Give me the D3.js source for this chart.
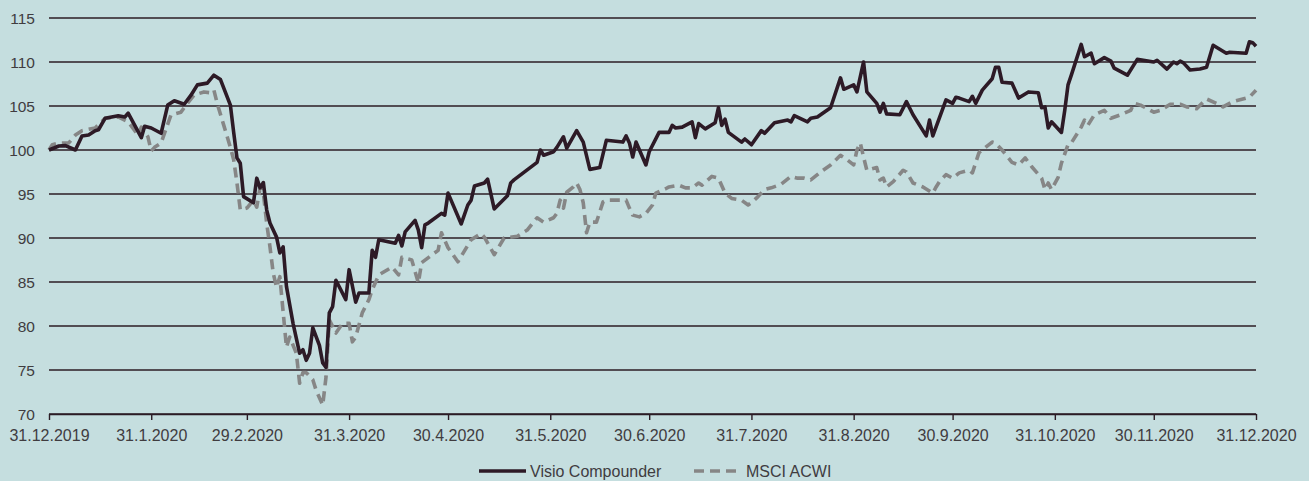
<!DOCTYPE html>
<html><head><meta charset="utf-8">
<script src="https://cdn.jsdelivr.net/npm/d3@7"></script>
<style>
html,body{margin:0;padding:0;background:#c5dedf;}
svg{display:block;}
text{font-family:"Liberation Sans",Arial,sans-serif;fill:#403c3f;}
</style></head>
<body><svg id="c" width="1309" height="481"></svg>
<script>
const seriesNames = ["Visio Compounder", "MSCI ACWI"];
const yTicks = [70,75,80,85,90,95,100,105,110,115];
const xTickDates = ["2019-12-31","2020-01-31","2020-02-29","2020-03-31","2020-04-30","2020-05-31","2020-06-30","2020-07-31","2020-08-31","2020-09-30","2020-10-31","2020-11-30","2020-12-31"];
const xTickLabels = ["31.12.2019","31.1.2020","29.2.2020","31.3.2020","30.4.2020","31.5.2020","30.6.2020","31.7.2020","31.8.2020","30.9.2020","31.10.2020","30.11.2020","31.12.2020"];

const visioDates = ["2019-12-31","2020-01-03","2020-01-05","2020-01-08","2020-01-10","2020-01-12","2020-01-14","2020-01-15","2020-01-17","2020-01-19","2020-01-21","2020-01-23","2020-01-24","2020-01-26","2020-01-28","2020-01-29","2020-01-31",
"2020-02-03","2020-02-05","2020-02-07","2020-02-10","2020-02-12","2020-02-14","2020-02-17","2020-02-19","2020-02-21","2020-02-24","2020-02-25","2020-02-26","2020-02-27","2020-02-28",
"2020-03-02","2020-03-03","2020-03-04","2020-03-05","2020-03-06","2020-03-07","2020-03-09","2020-03-10","2020-03-11","2020-03-12","2020-03-14","2020-03-16","2020-03-17","2020-03-18","2020-03-19","2020-03-20","2020-03-22","2020-03-23","2020-03-24","2020-03-25","2020-03-26","2020-03-27","2020-03-30","2020-03-31",
"2020-04-02","2020-04-03","2020-04-06","2020-04-07","2020-04-08","2020-04-09","2020-04-14","2020-04-15","2020-04-16","2020-04-17","2020-04-20","2020-04-21","2020-04-22","2020-04-23","2020-04-24","2020-04-28","2020-04-29","2020-04-30",
"2020-05-04","2020-05-06","2020-05-07","2020-05-08","2020-05-11","2020-05-12","2020-05-14","2020-05-18","2020-05-19","2020-05-20","2020-05-27","2020-05-28","2020-05-29",
"2020-06-01","2020-06-02","2020-06-04","2020-06-05","2020-06-08","2020-06-10","2020-06-12","2020-06-15","2020-06-17","2020-06-22","2020-06-23","2020-06-24","2020-06-25","2020-06-26","2020-06-29","2020-06-30",
"2020-07-03","2020-07-06","2020-07-07","2020-07-08","2020-07-10","2020-07-13","2020-07-14","2020-07-15","2020-07-17","2020-07-20","2020-07-21","2020-07-22","2020-07-23","2020-07-24","2020-07-28","2020-07-29","2020-07-31",
"2020-08-03","2020-08-04","2020-08-07","2020-08-11","2020-08-12","2020-08-13","2020-08-17","2020-08-18","2020-08-20","2020-08-24","2020-08-27","2020-08-28","2020-08-31",
"2020-09-01","2020-09-03","2020-09-04","2020-09-07","2020-09-08","2020-09-09","2020-09-10","2020-09-14","2020-09-16","2020-09-18","2020-09-22","2020-09-23","2020-09-24","2020-09-28","2020-09-30",
"2020-10-01","2020-10-02","2020-10-05","2020-10-06","2020-10-07","2020-10-09","2020-10-12","2020-10-13","2020-10-14","2020-10-15","2020-10-18","2020-10-20","2020-10-23","2020-10-26","2020-10-27","2020-10-28","2020-10-29","2020-10-30",
"2020-11-02","2020-11-03","2020-11-04","2020-11-05","2020-11-08","2020-11-09","2020-11-11","2020-11-12","2020-11-15","2020-11-17","2020-11-18","2020-11-22","2020-11-25","2020-11-30",
"2020-12-01","2020-12-04","2020-12-06","2020-12-07","2020-12-08","2020-12-09","2020-12-11","2020-12-14","2020-12-16","2020-12-18","2020-12-22","2020-12-23","2020-12-28","2020-12-29","2020-12-30","2020-12-31"];
const visioValues = [100.0,100.45,100.5,100.0,101.6,101.7,102.2,102.3,103.6,103.75,103.9,103.75,104.2,102.8,101.4,102.7,102.5,
101.9,105.1,105.6,105.2,106.2,107.4,107.6,108.5,108.0,105.1,102.0,99.1,98.5,94.7,
94.0,96.8,95.7,96.3,93.2,91.7,90.1,88.3,89.0,84.5,80.3,76.9,77.3,76.1,76.9,79.8,77.8,75.8,75.3,81.5,82.2,85.2,83.0,86.4,
82.7,83.75,83.75,88.6,87.8,89.8,89.4,90.3,89.1,90.7,92.0,90.9,88.9,91.5,91.7,92.8,92.6,95.1,
91.6,93.75,94.3,95.9,96.25,96.7,93.3,94.8,96.25,96.6,98.6,100.0,99.4,
99.8,100.3,101.5,100.2,102.2,100.9,97.8,98.0,101.1,100.9,101.6,100.8,99.2,100.9,98.3,99.8,
102.0,102.0,102.8,102.5,102.6,103.2,101.4,103.0,102.4,103.1,104.8,102.8,103.5,102.0,100.9,101.25,100.6,
102.2,101.9,103.1,103.4,103.2,103.9,103.2,103.6,103.75,104.8,108.2,106.9,107.4,
106.6,110.0,106.6,105.3,104.3,105.3,104.1,104.0,105.5,104.0,101.6,103.4,101.6,105.7,105.3,
106.0,105.9,105.5,106.1,105.3,106.8,108.1,109.4,109.4,107.7,107.6,105.9,106.6,106.5,104.8,104.9,102.5,103.2,
102.0,104.5,107.4,108.5,112.0,110.6,111.0,109.8,110.5,110.1,109.3,108.5,110.3,110.0,
110.2,109.2,110.0,109.8,110.1,109.9,109.1,109.2,109.4,111.9,111.0,111.1,111.0,112.3,112.2,111.8];

const msciDates = ["2019-12-31","2020-01-01","2020-01-03","2020-01-06","2020-01-08","2020-01-10","2020-01-14","2020-01-17","2020-01-21","2020-01-24","2020-01-27","2020-01-28","2020-01-30","2020-01-31",
"2020-02-01","2020-02-03","2020-02-06","2020-02-09","2020-02-11","2020-02-13","2020-02-16","2020-02-18","2020-02-19","2020-02-20","2020-02-22","2020-02-24","2020-02-25","2020-02-26","2020-02-27","2020-02-29",
"2020-03-02","2020-03-03","2020-03-04","2020-03-05","2020-03-06","2020-03-07","2020-03-08","2020-03-09","2020-03-10","2020-03-12","2020-03-13","2020-03-15","2020-03-16","2020-03-17","2020-03-18","2020-03-20","2020-03-21","2020-03-23","2020-03-24","2020-03-25","2020-03-27","2020-03-29","2020-03-31",
"2020-04-01","2020-04-02","2020-04-04","2020-04-06","2020-04-07","2020-04-09","2020-04-13","2020-04-15","2020-04-16","2020-04-19","2020-04-21","2020-04-22","2020-04-27","2020-04-28","2020-04-30",
"2020-05-03","2020-05-07","2020-05-10","2020-05-11","2020-05-14","2020-05-17","2020-05-21","2020-05-24","2020-05-27","2020-05-29",
"2020-06-01","2020-06-02","2020-06-03","2020-06-04","2020-06-05","2020-06-07","2020-06-08","2020-06-09","2020-06-10","2020-06-11","2020-06-12","2020-06-14","2020-06-16","2020-06-17","2020-06-23","2020-06-24","2020-06-25","2020-06-27","2020-06-29",
"2020-07-01","2020-07-02","2020-07-05","2020-07-06","2020-07-09","2020-07-11","2020-07-13","2020-07-15","2020-07-16","2020-07-19","2020-07-21","2020-07-23","2020-07-25","2020-07-28","2020-07-30","2020-07-31",
"2020-08-02","2020-08-04","2020-08-06","2020-08-09","2020-08-12","2020-08-14","2020-08-16","2020-08-18","2020-08-21","2020-08-24","2020-08-27","2020-08-29","2020-08-31",
"2020-09-01","2020-09-02","2020-09-03","2020-09-04","2020-09-07","2020-09-08","2020-09-09","2020-09-10","2020-09-12","2020-09-15","2020-09-16","2020-09-18","2020-09-21","2020-09-24","2020-09-25","2020-09-26","2020-09-28","2020-09-30",
"2020-10-02","2020-10-05","2020-10-06","2020-10-08","2020-10-12","2020-10-13","2020-10-15","2020-10-18","2020-10-20","2020-10-22","2020-10-24","2020-10-27","2020-10-28","2020-10-29","2020-10-30",
"2020-11-01","2020-11-02","2020-11-04","2020-11-05","2020-11-08","2020-11-09","2020-11-10","2020-11-12","2020-11-15","2020-11-17","2020-11-20","2020-11-23","2020-11-24","2020-11-26","2020-11-30",
"2020-12-02","2020-12-05","2020-12-08","2020-12-10","2020-12-13","2020-12-16","2020-12-19","2020-12-21","2020-12-24","2020-12-28","2020-12-29","2020-12-31"];
const msciValues = [100.0,100.6,100.8,100.8,101.7,102.2,102.5,103.6,103.75,103.2,101.7,102.6,101.5,99.9,
100.3,100.8,104.0,104.3,105.3,106.25,106.6,106.5,106.8,105.3,102.8,100.3,98.9,96.25,93.2,93.4,
94.3,93.5,95.7,95.1,91.7,89.0,86.0,84.4,85.6,77.6,78.75,76.9,73.5,74.7,74.7,73.9,72.7,71.0,74.2,80.7,79.2,80.3,80.3,
78.2,78.75,81.5,83.0,84.1,85.8,86.7,85.8,87.8,87.5,84.9,87.2,88.6,90.6,88.9,
87.3,89.8,90.5,90.1,88.1,90.0,90.2,90.9,92.3,91.8,
92.3,92.8,94.3,93.4,95.2,95.8,96.25,95.5,94.0,90.6,91.8,91.8,94.1,94.3,94.3,93.4,92.6,92.4,92.8,
93.75,95.1,95.6,95.8,96.0,95.7,95.7,96.25,96.0,97.0,96.8,95.1,94.5,94.3,93.75,94.0,
94.7,95.5,95.7,96.1,97.0,96.8,96.8,96.6,97.5,98.3,99.4,98.9,98.3,
100.0,100.8,99.2,97.7,98.0,96.6,96.8,95.8,96.4,97.7,97.5,96.25,95.8,95.1,95.8,96.4,97.2,96.8,
97.4,97.7,97.4,99.7,100.9,100.8,100.0,98.6,98.3,99.1,98.1,96.8,95.5,96.25,95.5,
96.9,98.5,100.6,100.8,102.6,103.4,102.8,104.0,104.5,103.6,104.0,104.5,105.3,105.1,104.3,
104.5,105.2,105.2,104.9,104.7,105.8,105.3,104.9,105.5,105.9,106.0,106.8];

const parseDate = d3.timeParse("%Y-%m-%d");
const visioData = visioDates.map((d,i)=>({date:parseDate(d), value:visioValues[i]}));
const msciData = msciDates.map((d,i)=>({date:parseDate(d), value:msciValues[i]}));

(function draw(){
const svg = d3.select("#c");
const mL = 49, mR = 1256, mT = 18, mB = 414;
const x = d3.scaleTime().domain([parseDate("2019-12-31"), parseDate("2020-12-31")]).range([mL, mR]);
const y = d3.scaleLinear().domain([70,115]).range([mB, mT]);

svg.append("g").selectAll("line").data(yTicks).join("line")
  .attr("x1", mL).attr("x2", mR)
  .attr("y1", d=>y(d)).attr("y2", d=>y(d))
  .attr("stroke", "#2b1c25").attr("stroke-width", 1.4);

svg.append("g").selectAll("text").data(yTicks).join("text")
  .attr("x", 35).attr("y", d=>y(d)+5.5)
  .attr("text-anchor","end").attr("font-size", 15.5)
  .text(d=>d);

const xAxis = d3.axisBottom(x)
  .tickValues(xTickDates.map(parseDate))
  .tickFormat((d,i)=>xTickLabels[i])
  .tickSize(6).tickSizeOuter(0).tickPadding(10);
const gx = svg.append("g").attr("transform", `translate(0,${mB})`).call(xAxis);
gx.select(".domain").attr("stroke","#2b1c25").attr("stroke-width",1.4);
gx.selectAll(".tick line").attr("stroke","#2b1c25").attr("stroke-width",1.4);
gx.selectAll(".tick text").attr("font-size",16).attr("fill","#403c3f")
  .attr("font-family","'Liberation Sans',Arial,sans-serif");

const line = d3.line().x(d=>x(d.date)).y(d=>y(d.value));

svg.append("path").datum(msciData).attr("d", line)
  .attr("fill","none").attr("stroke","#868686").attr("stroke-width",3.6)
  .attr("stroke-dasharray","10,6").attr("stroke-linejoin","round");

svg.append("path").datum(visioData).attr("d", line)
  .attr("fill","none").attr("stroke","#2d1a26").attr("stroke-width",3.6)
  .attr("stroke-linejoin","round");

const lg = svg.append("g");
lg.append("line").attr("x1",479).attr("x2",526).attr("y1",471).attr("y2",471)
  .attr("stroke","#2d1a26").attr("stroke-width",3.6);
lg.append("text").attr("x",530).attr("y",477).attr("font-size",16).text(seriesNames[0]);
lg.append("line").attr("x1",694).attr("x2",737).attr("y1",471).attr("y2",471)
  .attr("stroke","#868686").attr("stroke-width",3.6).attr("stroke-dasharray","10,6");
lg.append("text").attr("x",746).attr("y",477).attr("font-size",16).text(seriesNames[1]);
})();
</script>
</body></html>
